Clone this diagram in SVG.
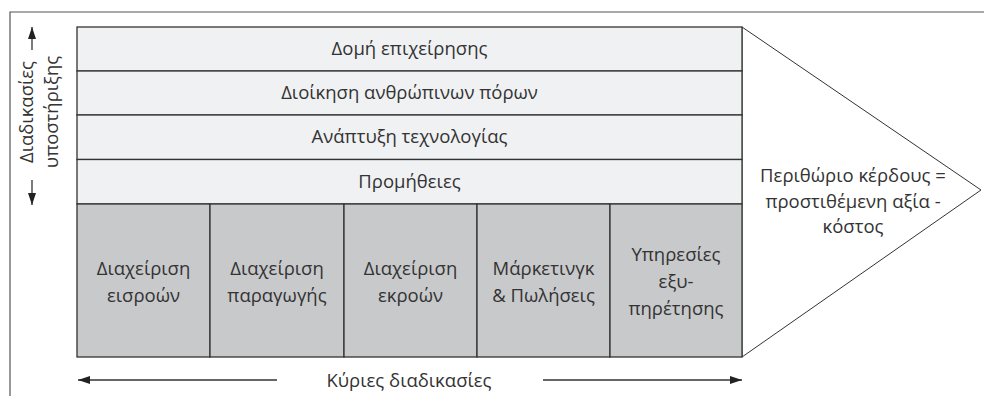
<svg xmlns="http://www.w3.org/2000/svg" width="984" height="396" viewBox="0 0 984 396">
<defs>
<style>
.t{font-family:"Open Sans","Liberation Sans",sans-serif;font-size:18.5px;fill:#333;text-anchor:middle}
.light{fill:#f0f1f3;stroke:#333;stroke-width:1.3}
.dark{fill:#c8c9cb;stroke:#333;stroke-width:1.3}
.frame{fill:none;stroke:#555;stroke-width:1.2}
.arr{fill:none;stroke:#333;stroke-width:1.3}
</style>
<marker id="ah" viewBox="0 0 12 8" refX="12" refY="4" markerWidth="12" markerHeight="8" markerUnits="userSpaceOnUse" orient="auto">
<path d="M0,0 L12,4 L0,8 Z" fill="#222"/>
</marker>
</defs>
<rect width="984" height="396" fill="#fff"/>
<g id="frame">
<path class="frame" d="M10,396 V12 H984"/>
</g>
<g id="margin">
<polygon points="742,27 981,190 742,357" fill="#fff" stroke="#333" stroke-width="1"/>
<text class="t" x="853" y="182">Περιθώριο κέρδους =</text>
<text class="t" x="853" y="208">προστιθέμενη αξία -</text>
<text class="t" x="853" y="233">κόστος</text>
</g>
<g id="row1"><rect class="light" x="77" y="27" width="665" height="44"/><text class="t" x="409.5" y="55">Δομή επιχείρησης</text></g>
<g id="row2"><rect class="light" x="77" y="71" width="665" height="44"/><text class="t" x="409.5" y="99">Διοίκηση ανθρώπινων πόρων</text></g>
<g id="row3"><rect class="light" x="77" y="115" width="665" height="44.5"/><text class="t" x="409.5" y="143">Ανάπτυξη τεχνολογίας</text></g>
<g id="row4"><rect class="light" x="77" y="159.5" width="665" height="44.5"/><text class="t" x="409.5" y="188">Προμήθειες</text></g>
<g id="col1"><rect class="dark" x="77" y="204" width="133" height="153"/><text class="t" x="143.5" y="275">Διαχείριση</text><text class="t" x="143.5" y="302">εισροών</text></g>
<g id="col2"><rect class="dark" x="210" y="204" width="134" height="153"/><text class="t" x="277" y="275">Διαχείριση</text><text class="t" x="277" y="302">παραγωγής</text></g>
<g id="col3"><rect class="dark" x="344" y="204" width="133" height="153"/><text class="t" x="410.5" y="275">Διαχείριση</text><text class="t" x="410.5" y="302">εκροών</text></g>
<g id="col4"><rect class="dark" x="477" y="204" width="133" height="153"/><text class="t" x="543.5" y="275">Μάρκετινγκ</text><text class="t" x="543.5" y="302">&amp; Πωλήσεις</text></g>
<g id="col5"><rect class="dark" x="610" y="204" width="132" height="153"/><text class="t" x="676" y="261">Υπηρεσίες</text><text class="t" x="676" y="288">εξυ-</text><text class="t" x="676" y="315">πηρέτησης</text></g>
<g id="support-label">
<text class="t" transform="translate(33,112) rotate(-90)">Διαδικασίες</text>
<text class="t" transform="translate(58,112) rotate(-90)">υποστήριξης</text>
</g>
<g id="primary-label">
<text class="t" x="409" y="387">Κύριες διαδικασίες</text>
</g>
<g id="connectors">
<line class="arr" x1="32" y1="50" x2="32" y2="27" marker-end="url(#ah)"/>
<line class="arr" x1="32" y1="180" x2="32" y2="205" marker-end="url(#ah)"/>
<line class="arr" x1="277" y1="380" x2="78" y2="380" marker-end="url(#ah)"/>
<line class="arr" x1="543" y1="380" x2="742" y2="380" marker-end="url(#ah)"/>
</g>
</svg>
